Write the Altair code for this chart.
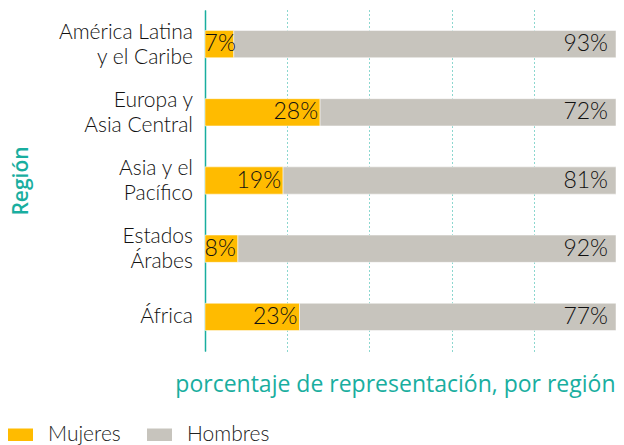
import altair as alt
import pandas as pd

regions = ["América Latina|y el Caribe", "Europa y|Asia Central", "Asia y el|Pacífico", "Estados|Árabes", "África"]
mujeres = [7, 28, 19, 8, 23]
hombres = [93, 72, 81, 92, 77]
series = ["Mujeres", "Hombres"]
colors = ["#FFBB00", "#C7C4BD"]
teal = "#19AE9F"

rows = []
for r, m, h in zip(regions, mujeres, hombres):
    rows.append({"region": r, "serie": "Mujeres", "valor": m, "start": 0, "end": m + 0, "ord": 0})
    rows.append({"region": r, "serie": "Hombres", "valor": h, "start": m, "end": m + h, "ord": 1})
df = pd.DataFrame(rows)

lab_rows = []
for r in regions:
    parts = r.split("|")
    lab_rows.append({"region": r, "l1": parts[0], "l2": parts[1] if len(parts) > 1 else "", "n": len(parts)})
dlab = pd.DataFrame(lab_rows)

ysc = alt.Scale(paddingInner=0.6, paddingOuter=0.3)
y = alt.Y("region:N", sort=regions, scale=ysc,
          axis=alt.Axis(title="Región", titleColor=teal, titleFontSize=21, titleFontWeight=600,
                        titleFont="Open Sans", titleX=-184, titleY=170.5, titleAngle=-90,
                        titleAlign="center", titleBaseline="middle",
                        labels=False, ticks=False, domainColor=teal, domainWidth=1.5, grid=False))

x = alt.X("start:Q", scale=alt.Scale(domain=[0, 100]),
          axis=alt.Axis(title="porcentaje de representación, por región", titleColor=teal,
                        titleFontSize=23, titleFontWeight="normal", titleFont="Open Sans",
                        titleX=410, titleY=40, titleAlign="right", titleBaseline="alphabetic",
                        labels=False, ticks=False, domain=False, values=[0, 20, 40, 60, 80, 100],
                        grid=True, gridColor=teal, gridDash=[1, 3], gridWidth=1))

bars = alt.Chart(df).mark_bar(stroke="white", strokeWidth=0.5).encode(
    y=y, x=x, x2="end:Q",
    color=alt.Color("serie:N", sort=series, scale=alt.Scale(domain=series, range=colors),
                    legend=alt.Legend(title=None, orient="none", direction="horizontal",
                                      legendX=-197, legendY=412, labelFontSize=21, labelFont="Lato",
                                      labelFontWeight=300, labelColor="#222",
                                      symbolType="M-1,-0.5H1V0.5H-1Z",
                                      symbolSize=625, symbolStrokeWidth=0, symbolOpacity=1,
                                      columnPadding=26, labelOffset=15)),
    order="ord:Q",
)

labels = alt.Chart(df).transform_calculate(
    label="datum.valor + '%'", lx="max(datum.end, 8)"
).encode(
    y=alt.Y("region:N", sort=regions),
    text=alt.Text("label:N"),
)
lab_m = labels.transform_filter("datum.serie == 'Mujeres'").mark_text(
    align="right", baseline="middle", fontSize=23, font="Lato", fontWeight=300, color="#111", dx=-2
).encode(x=alt.X("lx:Q"))
lab_h = labels.transform_filter("datum.serie == 'Hombres'").mark_text(
    align="right", baseline="middle", fontSize=23, font="Lato", fontWeight=300, color="#111", dx=-8
).encode(x=alt.X("end:Q"))

ylab_base = alt.Chart(dlab).encode(y=alt.Y("region:N", sort=regions), x=alt.value(-12))
ytxt = dict(align="right", baseline="middle", fontSize=21, font="Lato", fontWeight=300, color="#111")
ylab_1 = ylab_base.transform_filter("datum.n == 2").mark_text(dy=-11.5, **ytxt).encode(text="l1:N")
ylab_2 = ylab_base.transform_filter("datum.n == 2").mark_text(dy=13.5, **ytxt).encode(text="l2:N")
ylab_s = ylab_base.transform_filter("datum.n == 1").mark_text(**ytxt).encode(text="l1:N")

chart = (bars + lab_m + lab_h + ylab_1 + ylab_2 + ylab_s).properties(
    width=411, height=341,
    autosize=alt.AutoSizeParams(type="none"),
    padding={"left": 197, "top": 2, "right": 0, "bottom": 94},
).configure_view(stroke=None)

chart.save("out.html", embed_options={"renderer": "svg", "actions": False})
